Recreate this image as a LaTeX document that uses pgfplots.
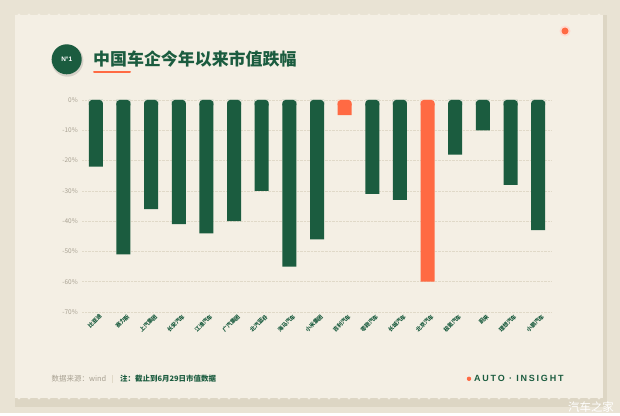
\documentclass[border=0pt]{standalone}
\usepackage{pgfplots}
\pgfplotsset{compat=1.18}
\usepackage{fontspec}
\setmainfont{Noto Sans CJK SC}
\newfontfamily\latinsp{Liberation Sans}[LetterSpace=20]
\newfontfamily\latin{Liberation Sans}
\definecolor{bgout}{HTML}{E9E3D4}
\definecolor{shadowc}{HTML}{DDD6C4}
\definecolor{card}{HTML}{F4EFE4}
\definecolor{dgreen}{HTML}{1B5C3F}
\definecolor{orng}{HTML}{FF6A43}
\definecolor{tickc}{HTML}{A8A192}
\definecolor{gridc}{HTML}{E0D9C8}
\begin{document}
\begin{tikzpicture}[x=1bp,y=1bp]
\fill[bgout] (0,0) rectangle (620,413);
\fill[shadowc] (15,6) rectangle (607,15);
\fill[shadowc] (603,15) rectangle (607,398);
\fill[card] (15,15) rectangle (603,398);
\foreach \i in {0,...,58} {
  \fill[card] (19+\i*10,398) circle (1.6);
  \fill[card] (19+\i*10,15) circle (1.6);
}
% badge
\fill[black,opacity=0.12] (67.4,352.3) circle (16);
\fill[dgreen] (66.7,353.7) circle (15);
\node[white,font=\latin\bfseries\fontsize{6.5}{7}\selectfont] at (66.7,353.7) {N°1};
% title
\node[anchor=west,inner sep=0pt,text=dgreen,font=\bfseries\fontsize{17}{17}\selectfont] at (93,354) {中国车企今年以来市值跌幅};
\draw[orng,line width=2bp,line cap=round] (94,341.3) -- (130,341.3);
% dot
\fill[orng!25] (565,382) circle (5.5);
\fill[orng] (565,382) circle (3.5);
% footer
\node[anchor=west,inner sep=0pt,text=tickc,font=\fontsize{7.5}{8}\selectfont] at (51.5,34.2) {数据来源：wind};
\draw[gridc,line width=0.6bp] (112,30.5) -- (112,38);
\node[anchor=west,inner sep=0pt,text=dgreen,font=\bfseries\fontsize{7.5}{8}\selectfont] at (120,34.2) {注：截止到6月29日市值数据};
\fill[orng] (469,34.2) circle (2.2);
\node[anchor=west,inner sep=0pt,text=dgreen,font=\latinsp\bfseries\fontsize{9}{10}\selectfont] at (474,34.2) {AUTO · INSIGHT};
\node[white,font=\fontsize{11.5}{12}\selectfont] at (591,6) {汽车之家};
\begin{axis}[at={(82bp,101bp)},anchor=south west,scale only axis,
  width=470bp,height=212bp,
  xmin=-0.5,xmax=16.5,ymin=-70,ymax=0,
  axis line style={draw=none},major tick length=0pt,
  ytick={-70,-60,...,0},
  yticklabel={\pgfmathprintnumber{\tick}\%},
  /pgf/number format/assume math mode=true,
  yticklabel style={font=\fontsize{6.5}{7}\selectfont,text=tickc,inner sep=0pt,anchor=east,xshift=-4bp},
  xtick={0,...,16},
  xticklabels={比亚迪,赛力斯,上汽集团,长安汽车,江淮汽车,广汽集团,北汽蓝谷,海马汽车,小米集团,吉利汽车,零跑汽车,长城汽车,北京汽车,极氪汽车,蔚来,理想汽车,小鹏汽车},
  xticklabel style={rotate=45,anchor=east,inner sep=0pt,font=\bfseries\fontsize{5.5}{6}\selectfont,text=dgreen,yshift=-6bp,xshift=1bp},
  ymajorgrids,grid style={densely dotted,gridc,line width=0.7bp},
  clip=false]
% square bars
\addplot[ybar,bar width=14bp,bar shift=0pt,fill=dgreen,draw=none] coordinates {(0,-22) (1,-51) (2,-36) (3,-41) (4,-44) (5,-40) (6,-30) (7,-55) (8,-46) (10,-31) (11,-33) (13,-18) (14,-10) (15,-28) (16,-43)};
\addplot[ybar,bar width=14bp,bar shift=0pt,fill=orng,draw=none] coordinates {(9,-5) (12,-60)};
% cover tops, then rounded tops
\addplot[ybar,bar width=14.4bp,bar shift=0pt,fill=card,draw=none] coordinates {(0,-1.2) (1,-1.2) (2,-1.2) (3,-1.2) (4,-1.2) (5,-1.2) (6,-1.2) (7,-1.2) (8,-1.2) (9,-1.2) (10,-1.2) (11,-1.2) (12,-1.2) (13,-1.2) (14,-1.2) (15,-1.2) (16,-1.2)};
\addplot[ybar,bar width=14bp,bar shift=0pt,fill=dgreen,draw=none,rounded corners=3bp] coordinates {(0,-2.5) (1,-2.5) (2,-2.5) (3,-2.5) (4,-2.5) (5,-2.5) (6,-2.5) (7,-2.5) (8,-2.5) (10,-2.5) (11,-2.5) (13,-2.5) (14,-2.5) (15,-2.5) (16,-2.5)};
\addplot[ybar,bar width=14bp,bar shift=0pt,fill=orng,draw=none,rounded corners=3bp] coordinates {(9,-2.5) (12,-2.5)};
\end{axis}
\end{tikzpicture}
\end{document}
